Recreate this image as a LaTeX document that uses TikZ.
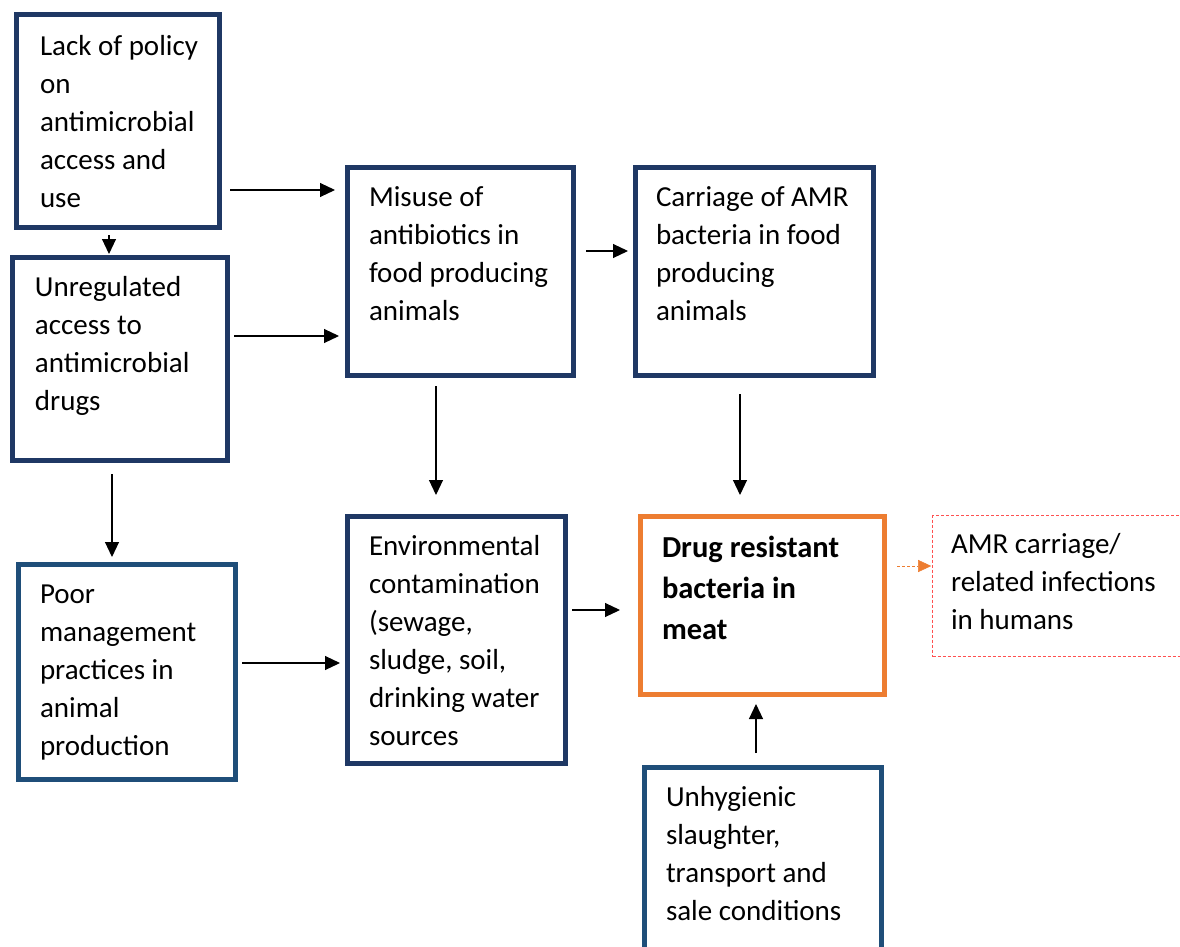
\documentclass[tikz,border=0pt]{standalone}
\usepackage{fontspec}
\setmainfont{Carlito}
\usetikzlibrary{arrows.meta}

\definecolor{navy}{HTML}{1F3864}
\definecolor{steel}{HTML}{1F4E79}
\definecolor{amber}{HTML}{ED7D31}
\definecolor{rose}{HTML}{FF5050}

% box text: width, height, left pad, top pad, lines
\newcommand{\celltext}[5]{\parbox[c][#2][t]{#1}{\raggedright\leftskip=#3\relax\vspace*{#4}\strut#5}}

\begin{document}
\begin{tikzpicture}[x=1pt, y=-1pt,
  font=\fontsize{29}{38}\selectfont,
  cause/.style={draw=navy, line width=5pt, inner sep=0pt},
  practice/.style={cause, draw=steel},
  outcome/.style={cause, draw=amber},
  effect/.style={draw=rose, densely dashed, line width=0.6pt, inner sep=0pt},
  arr/.style={-{Triangle[length=15pt,width=14pt]}, line width=1.1pt},
  farr/.style={-{Triangle[length=13pt,width=12pt]}, draw=amber, densely dashed, line width=0.5pt, color=amber}]
\useasboundingbox (0,0) rectangle (1180,947);

% left column
\node[cause] (lack) at (118,121) {\celltext{203pt}{213pt}{23.5pt}{14pt}{Lack of policy\\on\\antimicrobial\\access and\\use}};
\node[cause] (unreg) at (120,359) {\celltext{215pt}{203pt}{22.5pt}{12pt}{Unregulated\\access to\\antimicrobial\\drugs}};
\node[practice] (poor) at (127,672) {\celltext{217pt}{215pt}{21.5pt}{12pt}{Poor\\management\\practices in\\animal\\production}};

% middle column
\node[cause] (misuse) at (460.5,271.5) {\celltext{226pt}{208pt}{21.5pt}{12pt}{Misuse of\\antibiotics in\\food producing\\animals}};
\node[cause] (env) at (456.5,640) {\celltext{218pt}{247pt}{21.5pt}{12pt}{Environmental\\contamination\\(sewage,\\sludge, soil,\\drinking water\\sources}};

% right column
\node[cause] (carriage) at (754.5,271.5) {\celltext{238pt}{208pt}{20.5pt}{12pt}{Carriage of AMR\\bacteria in food\\producing\\animals}};
\node[outcome] (drug) at (762.5,605.5) {\celltext{244pt}{178pt}{21.5pt}{12pt}{\fontsize{30.5}{41}\selectfont\strut\bfseries Drug resistant\\bacteria in\\meat}};
\node[practice] (unhyg) at (763,872.5) {\celltext{237pt}{210pt}{21.5pt}{12pt}{Unhygienic\\slaughter,\\transport and\\sale conditions}};
\node[effect] (amr) at (1062.5,586) {\celltext{260pt}{141pt}{18.5pt}{11pt}{AMR carriage/\\related infections\\in humans}};

% links
\draw[arr] (lack.east |- 0,190) ++(8,0) -- ([xshift=-10pt]misuse.west |- 0,190);
\draw[arr] (lack.south -| 109,0) ++(0,5) -- ([yshift=1pt]unreg.north -| 109,0);
\draw[arr] (unreg.east |- 0,336) ++(4,0) -- ([xshift=-6pt]misuse.west |- 0,336);
\draw[arr] (unreg.south -| 112,0) ++(0,11) -- ([yshift=5pt]poor.north -| 112,0);
\draw[arr] (poor.east |- 0,663) ++(4,0) -- ([xshift=-5pt]env.west |- 0,663);
\draw[arr] (misuse.south -| 436,0) ++(0,8) -- ([yshift=19pt]env.north -| 436,0);
\draw[arr] (misuse.east |- 0,251) ++(10,0) -- ([xshift=-5pt]carriage.west |- 0,251);
\draw[arr] (carriage.south -| 740,0) ++(0,16) -- ([yshift=19pt]drug.north -| 740,0);
\draw[arr] (env.east |- 0,610) ++(4,0) -- ([xshift=-18pt]drug.west |- 0,610);
\draw[arr] (unhyg.north -| 756,0) ++(0,-12) -- ([yshift=-7pt]drug.south -| 756,0);
\draw[farr] (drug.east |- 0,566) ++(10,0) -- ([xshift=-1pt]amr.west |- 0,566);
\end{tikzpicture}
\end{document}
